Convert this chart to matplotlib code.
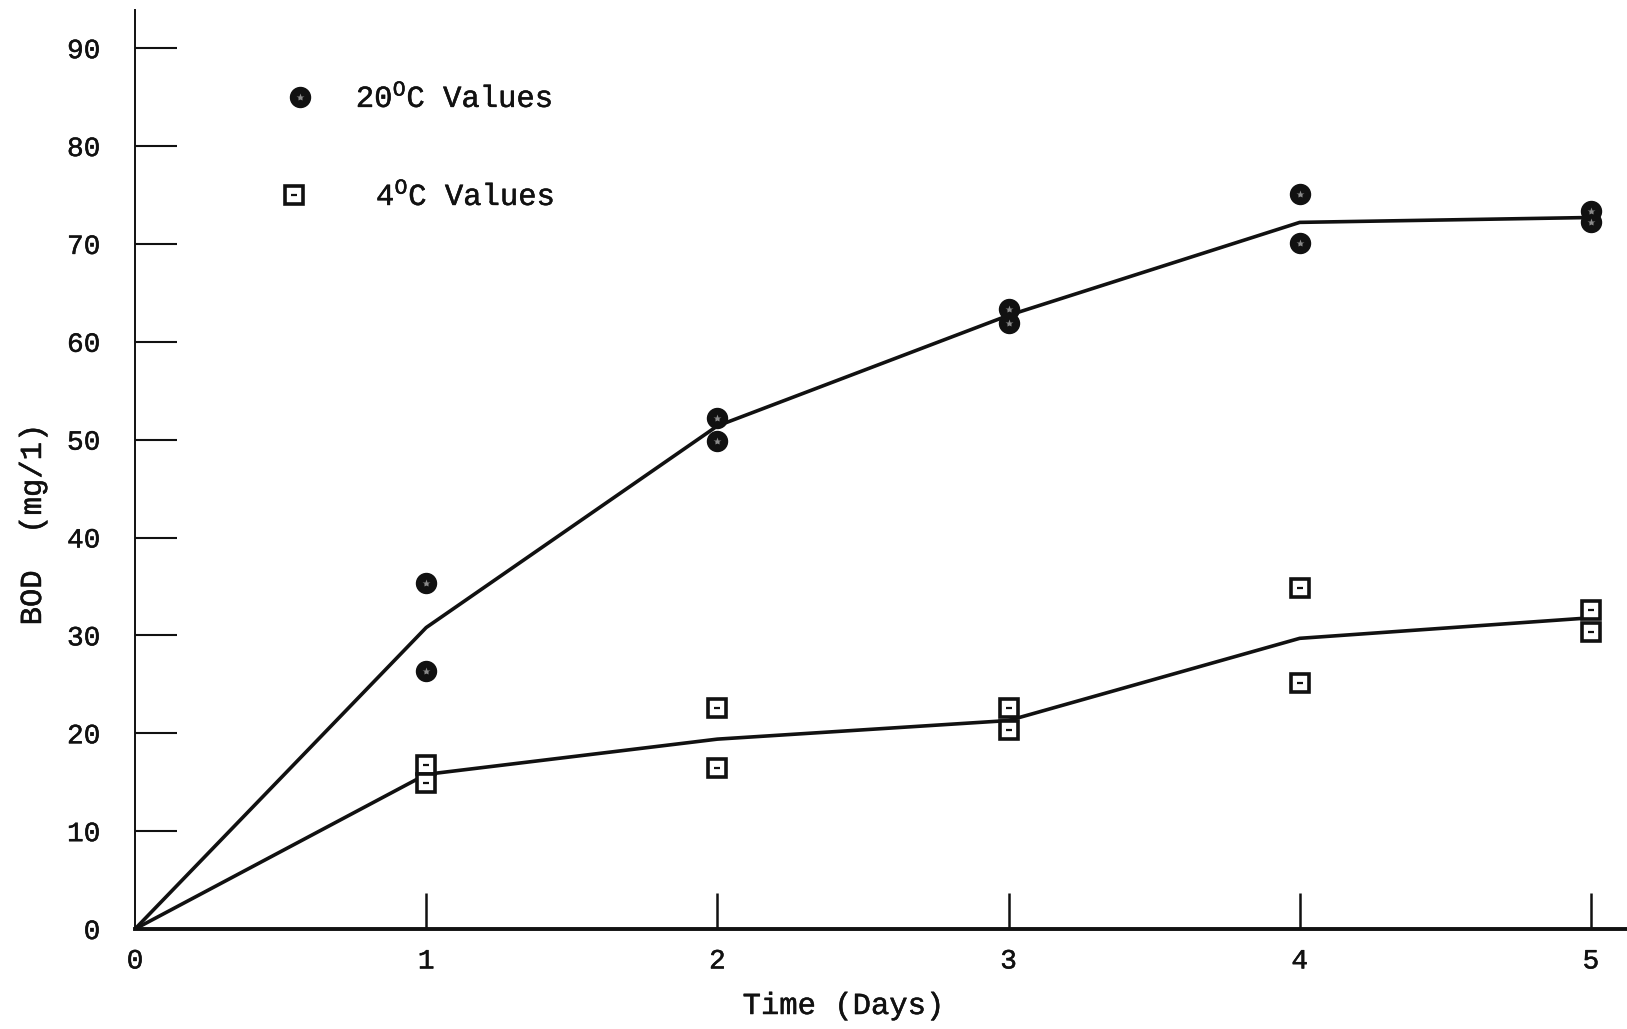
import matplotlib
matplotlib.use("Agg")
import matplotlib.pyplot as plt
import matplotlib.patheffects as pe

plt.rcParams["font.family"] = ["Liberation Mono", "DejaVu Sans Mono"]
plt.rcParams["mathtext.fontset"] = "custom"
plt.rcParams["mathtext.rm"] = "Liberation Mono"
plt.rcParams["mathtext.it"] = "Liberation Mono"

# Measured BOD values (duplicate samples) per incubation day
days = [1, 2, 3, 4, 5]
bod20_a = [35.4, 52.2, 63.4, 75.1, 73.4]
bod20_b = [26.4, 49.9, 61.9, 70.1, 72.2]
bod4_a = [16.8, 22.6, 22.6, 34.8, 32.6]
bod4_b = [14.9, 16.4, 20.3, 25.1, 30.3]

# Mean curves through the origin
curve_days = [0, 1, 2, 3, 4, 5]
curve20 = [0, 30.8, 51.4, 62.7, 72.2, 72.7]
curve4 = [0, 15.8, 19.4, 21.3, 29.7, 31.8]

x_ticks = [0, 1, 2, 3, 4, 5]
y_ticks = [0, 10, 20, 30, 40, 50, 60, 70, 80, 90]

ink = "#111111"
heavy = [pe.withStroke(linewidth=0.35, foreground=ink)]

fig = plt.figure(figsize=(16.27, 10.29), dpi=100)
ax = fig.add_axes([0.08297, 0.09718, 0.91703, 0.8931])
ax.set_xlim(0, 5.124)
ax.set_ylim(0, 93.9)

ax.plot(curve_days, curve20, color=ink, lw=2.6, solid_joinstyle="round", zorder=2)
ax.plot(curve_days, curve4, color=ink, lw=2.6, solid_joinstyle="round", zorder=2)

circle_style = dict(ls="none", marker="o", ms=14.4, mfc=ink, mec=ink, zorder=4, clip_on=False)
speck_style = dict(ls="none", marker="*", ms=6, mfc="#8a8a8a", mec="none", zorder=5, clip_on=False)
square_style = dict(ls="none", marker="s", ms=12.3, mfc="white", mec=ink, mew=2.6, zorder=4, clip_on=False)
dot_style = dict(ls="none", marker="_", ms=4, mec=ink, mew=1.6, zorder=5, clip_on=False)

for series in (bod20_a, bod20_b):
    ax.plot(days, series, **circle_style)
    ax.plot(days, series, **speck_style)
for series in (bod4_a, bod4_b):
    ax.plot(days, series, **square_style)
    ax.plot(days, series, **dot_style)

# Key
ax.plot([0.1107], [0.905], transform=ax.transAxes, **circle_style)
ax.plot([0.1107], [0.905], transform=ax.transAxes, **speck_style)
ax.plot([0.1064], [0.7987], transform=ax.transAxes, **square_style)
ax.plot([0.1064], [0.7987], transform=ax.transAxes, **dot_style)
ax.text(0.148, 0.8945, r"20$^{\mathrm{O}}$C Values", transform=ax.transAxes,
        fontsize=22, color=ink, ha="left", va="baseline", path_effects=heavy)
ax.text(0.1615, 0.7878, r"4$^{\mathrm{O}}$C Values", transform=ax.transAxes,
        fontsize=22, color=ink, ha="left", va="baseline", path_effects=heavy)

# Axes styling
for side in ("top", "right"):
    ax.spines[side].set_visible(False)
ax.spines["left"].set_linewidth(1.4)
ax.spines["bottom"].set_linewidth(2.8)
ax.spines["left"].set_color(ink)
ax.spines["bottom"].set_color(ink)

ax.set_xticks(x_ticks)
ax.set_yticks(y_ticks)
ax.set_xticklabels([str(v) for v in x_ticks])
ax.set_yticklabels([str(v) for v in y_ticks])
ax.tick_params(axis="x", direction="in", length=26, width=1.8, pad=14,
               labelsize=20, colors=ink)
ax.tick_params(axis="y", direction="in", length=30, width=1.5, pad=25,
               labelsize=20, colors=ink)
# the origin carries labels only, no tick marks
ax.xaxis.get_major_ticks()[0].tick1line.set_visible(False)
ax.yaxis.get_major_ticks()[0].tick1line.set_visible(False)
for lbl in ax.get_xticklabels() + ax.get_yticklabels():
    lbl.set_path_effects(heavy)

fig.text(843 / 1627, 1 - 1006 / 1029, "Time (Days)", fontsize=22, color=ink,
         ha="center", va="center", path_effects=heavy)
fig.text(33 / 1627, 1 - 525 / 1029, "BOD  (mg/1)", fontsize=22, color=ink,
         ha="center", va="center", rotation=90, path_effects=heavy)

fig.savefig("out.png", dpi=100, facecolor="white")
